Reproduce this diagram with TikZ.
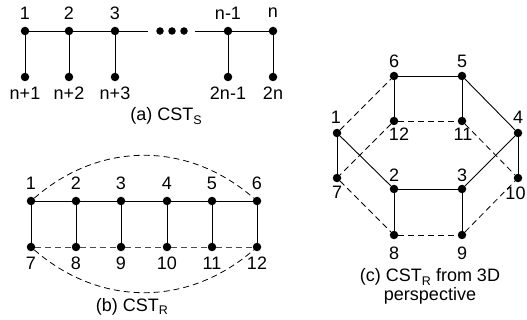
\documentclass[tikz,border=0pt]{standalone}
\usepackage{fontspec}
\setmainfont{Liberation Sans}
\newcommand\mysub[1]{\raisebox{-0.35ex}{\fontsize{12.5}{13}\selectfont #1}}
\begin{document}
\begin{tikzpicture}[x=1pt,y=-1pt,
  dot/.style={circle,fill=black,inner sep=0pt,minimum size=8.5pt},
  lbl/.style={font=\fontsize{18}{19}\selectfont,inner sep=0pt},
  captxt/.style={font=\fontsize{18}{19}\selectfont,inner sep=0pt,anchor=base},
  edge/.style={line width=0.9pt},
  dedge/.style={line width=0.8pt,dash pattern=on 6pt off 4pt},
  gdedge/.style={line width=0.8pt,dash pattern=on 6pt off 4pt,draw=black!70}]
\useasboundingbox (0,0) rectangle (527,320);
\clip (0,0) rectangle (527,320);
% ---------- (a) ----------
\foreach \n/\x in {1/25,2/69,3/115,4/228,5/273}{
  \node[dot] (at\n) at (\x,31) {};
  \node[dot] (ab\n) at (\x,77) {};
}
\node[dot,minimum size=7.5pt] (ad1) at (160,31) {};
\node[dot,minimum size=7.5pt] (ad2) at (172,31) {};
\node[dot,minimum size=7.5pt] (ad3) at (184,31) {};
\coordinate (ae1) at (148,31);
\coordinate (ae2) at (195,31);
\draw[edge] (at1) -- (at2) -- (at3) -- (ae1);
\draw[edge] (ae2) -- (at4) -- (at5);
\foreach \n in {1,...,5}{\draw[edge] (at\n) -- (ab\n);}
\node[lbl] (lat1) at (25,13) {1};
\node[lbl] (lat2) at (69,13) {2};
\node[lbl] (lat3) at (115,13) {3};
\node[lbl] (lat4) at (228,13) {n-1};
\node[lbl] (lat5) at (273,13) {n};
\node[lbl] (lab1) at (25,93) {n+1};
\node[lbl] (lab2) at (69,93) {n+2};
\node[lbl] (lab3) at (115,93) {n+3};
\node[lbl] (lab4) at (228,93) {2n-1};
\node[lbl] (lab5) at (273,93) {2n};
\node[captxt] (capa) at (166,121) {(a) CST\mysub{S}};
% ---------- (b) ----------
\foreach \n/\x in {1/31,2/76,3/121,4/167,5/212,6/257}{
  \node[dot] (bt\n) at (\x,201) {};
  \node[lbl] (lbt\n) at (\x,183) {\n};
}
\foreach \n/\x in {7/31,8/76,9/121,10/167,11/212,12/257}{
  \node[dot] (bb\n) at (\x,247) {};
  \node[lbl] (lbb\n) at (\x,263) {\n};
}
\draw[edge] (bt1) -- (bt2) -- (bt3) -- (bt4) -- (bt5) -- (bt6);
\draw[edge] (bt1) -- (bb7);
\draw[edge] (bt2) -- (bb8);
\draw[edge] (bt3) -- (bb9);
\draw[edge] (bt4) -- (bb10);
\draw[edge] (bt5) -- (bb11);
\draw[edge] (bt6) -- (bb12);
\draw[gdedge] (bb7) -- (bb8) -- (bb9) -- (bb10) -- (bb11) -- (bb12);
\draw[dedge] (bt1) .. controls (100,141) and (188,141) .. (bt6);
\draw[dedge] (bb7) .. controls (100,307) and (188,307) .. (bb12);
\node[captxt] (capb) at (132,311) {(b) CST\mysub{R}};
% ---------- (c) ----------
\node[dot] (c6) at (394,76) {};
\node[dot] (c5) at (462,76) {};
\node[dot] (c1) at (337,133) {};
\node[dot] (c12) at (394,121) {};
\node[dot] (c11) at (462,121) {};
\node[dot] (c4) at (518,133) {};
\node[dot] (c7) at (337,178) {};
\node[dot] (c2) at (394,189) {};
\node[dot] (c3) at (462,189) {};
\node[dot] (c10) at (518,178) {};
\node[dot] (c8) at (394,235) {};
\node[dot] (c9) at (462,235) {};
\node[lbl] (lc6) at (394,61) {6};
\node[lbl] (lc5) at (462,61) {5};
\node[lbl] (lc1) at (336,117) {1};
\node[lbl] (lc4) at (518,117) {4};
\node[lbl] (lc12) at (399,134) {12};
\node[lbl] (lc11) at (463,134) {11};
\node[lbl] (lc2) at (394,175) {2};
\node[lbl] (lc3) at (462,175) {3};
\node[lbl] (lc7) at (337,192) {7};
\node[lbl] (lc10) at (515.5,193) {10};
\node[lbl] (lc8) at (394,253) {8};
\node[lbl] (lc9) at (462,253) {9};
\draw[edge] (c6) -- (c5);
\draw[edge] (c6) -- (c12);
\draw[edge] (c5) -- (c11);
\draw[edge] (c5) -- (c4);
\draw[edge] (c1) -- (c7);
\draw[edge] (c1) -- (c2);
\draw[edge] (c2) -- (c3);
\draw[edge] (c2) -- (c8);
\draw[edge] (c3) -- (c9);
\draw[edge] (c3) -- (c4);
\draw[edge] (c4) -- (c10);
\draw[dedge] (c1) -- (c6);
\draw[dedge] (c12) -- (c11);
\draw[dedge] (c12) -- (c7);
\draw[dedge] (c11) -- (c10);
\draw[dedge] (c7) -- (c8);
\draw[dedge] (c8) -- (c9);
\draw[dedge] (c9) -- (c10);
\node[lbl,align=center,anchor=north] (capc) at (430,268.5) {(c) CST\mysub{R} from 3D\\perspective};
\end{tikzpicture}
\end{document}
